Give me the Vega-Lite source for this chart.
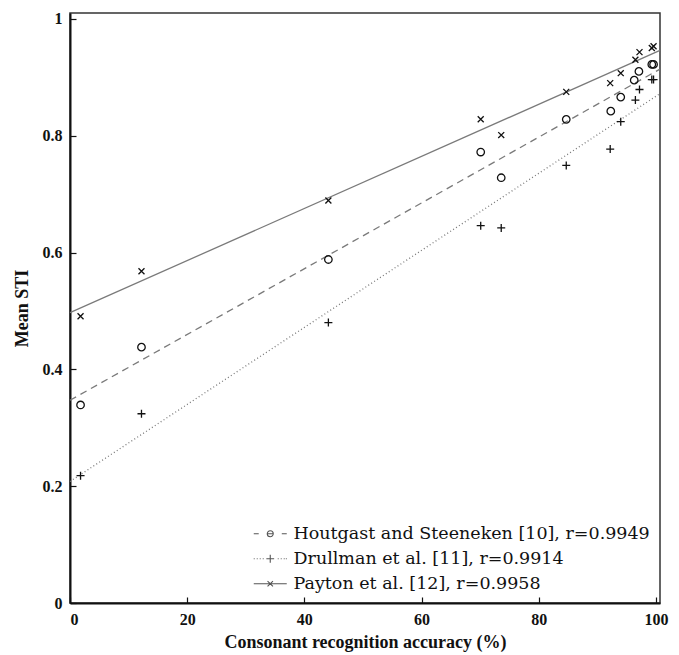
{
  "$schema": "https://vega.github.io/schema/vega-lite/v6.json",
  "autosize": {"type": "none"},
  "padding": {"left": 70, "top": 13, "right": 19, "bottom": 52},
  "width": 590,
  "height": 590,
  "background": "white",
  "config": {
    "view": {"stroke": "#333", "strokeWidth": 1.5},
    "axis": {
      "grid": false,
      "domainColor": "#111",
      "domainWidth": 2,
      "tickColor": "#111",
      "tickWidth": 1.2,
      "tickSize": -6,
      "labelFont": "Liberation Serif",
      "labelFontWeight": "bold",
      "labelFontSize": 16,
      "labelColor": "#111",
      "titleFont": "Liberation Serif",
      "titleFontWeight": "bold",
      "titleFontSize": 18,
      "titleColor": "#111"
    }
  },
  "resolve": {"scale": {"shape": "independent"}, "legend": {"shape": "independent"}},
  "datasets": {
    "pts": [
      {"x": 1.8, "y": 0.339, "s": "Houtgast and Steeneken [10], r=0.9949"},
      {"x": 12.2, "y": 0.438, "s": "Houtgast and Steeneken [10], r=0.9949"},
      {"x": 44.1, "y": 0.588, "s": "Houtgast and Steeneken [10], r=0.9949"},
      {"x": 70.1, "y": 0.772, "s": "Houtgast and Steeneken [10], r=0.9949"},
      {"x": 73.6, "y": 0.728, "s": "Houtgast and Steeneken [10], r=0.9949"},
      {"x": 84.7, "y": 0.828, "s": "Houtgast and Steeneken [10], r=0.9949"},
      {"x": 92.3, "y": 0.842, "s": "Houtgast and Steeneken [10], r=0.9949"},
      {"x": 94.0, "y": 0.866, "s": "Houtgast and Steeneken [10], r=0.9949"},
      {"x": 96.3, "y": 0.895, "s": "Houtgast and Steeneken [10], r=0.9949"},
      {"x": 97.1, "y": 0.910, "s": "Houtgast and Steeneken [10], r=0.9949"},
      {"x": 99.3, "y": 0.922, "s": "Houtgast and Steeneken [10], r=0.9949"},
      {"x": 99.6, "y": 0.922, "s": "Houtgast and Steeneken [10], r=0.9949"},
      {"x": 1.8, "y": 0.218, "s": "Drullman et al. [11], r=0.9914"},
      {"x": 12.2, "y": 0.324, "s": "Drullman et al. [11], r=0.9914"},
      {"x": 44.1, "y": 0.480, "s": "Drullman et al. [11], r=0.9914"},
      {"x": 70.1, "y": 0.646, "s": "Drullman et al. [11], r=0.9914"},
      {"x": 73.6, "y": 0.642, "s": "Drullman et al. [11], r=0.9914"},
      {"x": 84.7, "y": 0.749, "s": "Drullman et al. [11], r=0.9914"},
      {"x": 92.2, "y": 0.777, "s": "Drullman et al. [11], r=0.9914"},
      {"x": 94.0, "y": 0.824, "s": "Drullman et al. [11], r=0.9914"},
      {"x": 96.5, "y": 0.861, "s": "Drullman et al. [11], r=0.9914"},
      {"x": 97.2, "y": 0.879, "s": "Drullman et al. [11], r=0.9914"},
      {"x": 99.3, "y": 0.896, "s": "Drullman et al. [11], r=0.9914"},
      {"x": 99.6, "y": 0.896, "s": "Drullman et al. [11], r=0.9914"},
      {"x": 1.8, "y": 0.491, "s": "Payton et al. [12], r=0.9958"},
      {"x": 12.2, "y": 0.568, "s": "Payton et al. [12], r=0.9958"},
      {"x": 44.1, "y": 0.689, "s": "Payton et al. [12], r=0.9958"},
      {"x": 70.1, "y": 0.828, "s": "Payton et al. [12], r=0.9958"},
      {"x": 73.6, "y": 0.801, "s": "Payton et al. [12], r=0.9958"},
      {"x": 84.7, "y": 0.875, "s": "Payton et al. [12], r=0.9958"},
      {"x": 92.2, "y": 0.890, "s": "Payton et al. [12], r=0.9958"},
      {"x": 94.0, "y": 0.907, "s": "Payton et al. [12], r=0.9958"},
      {"x": 96.5, "y": 0.930, "s": "Payton et al. [12], r=0.9958"},
      {"x": 97.2, "y": 0.943, "s": "Payton et al. [12], r=0.9958"},
      {"x": 99.3, "y": 0.950, "s": "Payton et al. [12], r=0.9958"},
      {"x": 99.6, "y": 0.953, "s": "Payton et al. [12], r=0.9958"}
    ],
    "fits": [
      {"x": 0, "y": 0.347, "s": "H"},
      {"x": 100.7, "y": 0.914, "s": "H"},
      {"x": 0, "y": 0.208, "s": "D"},
      {"x": 100.7, "y": 0.872, "s": "D"},
      {"x": 0, "y": 0.497, "s": "P"},
      {"x": 100.7, "y": 0.946, "s": "P"}
    ]
  },
  "encoding": {
    "x": {
      "field": "x", "type": "quantitative",
      "scale": {"domain": [0, 100.7], "nice": false, "zero": false},
      "axis": {"values": [0, 20, 40, 60, 80, 100], "format": "d", "labelPadding": 14, "titlePadding": 6, "title": "Consonant recognition accuracy (%)"}
    },
    "y": {
      "field": "y", "type": "quantitative",
      "scale": {"domain": [0, 1.01], "nice": false, "zero": false},
      "axis": {"values": [0, 0.2, 0.4, 0.6, 0.8, 1], "format": "~g", "labelPadding": 14, "titlePadding": 11, "title": "Mean STI"}
    }
  },
  "layer": [
    {
      "data": {"name": "fits"},
      "transform": [{"filter": "datum.s === 'H'"}],
      "mark": {"type": "line", "color": "#7a7a7a", "strokeWidth": 1.3, "strokeDash": [7, 5]},
      "encoding": {}
    },
    {
      "data": {"name": "fits"},
      "transform": [{"filter": "datum.s === 'D'"}],
      "mark": {"type": "line", "color": "#7a7a7a", "strokeWidth": 1.3, "strokeDash": [1, 2.5]},
      "encoding": {}
    },
    {
      "data": {"name": "fits"},
      "transform": [{"filter": "datum.s === 'P'"}],
      "mark": {"type": "line", "color": "#7a7a7a", "strokeWidth": 1.3},
      "encoding": {}
    },
    {
      "data": {"name": "pts"},
      "mark": {"type": "point", "filled": false, "color": "#111", "strokeWidth": 1.3, "size": 56, "opacity": 1},
      "encoding": {
        "shape": {
          "field": "s", "type": "nominal",
          "scale": {
            "domain": ["Houtgast and Steeneken [10], r=0.9949", "Drullman et al. [11], r=0.9914", "Payton et al. [12], r=0.9958"],
            "range": ["circle", "M-1.07,0H1.07M0,-1.07V1.07", "M-0.8,-0.8L0.8,0.8M-0.8,0.8L0.8,-0.8"]
          },
          "legend": null
        }
      }
    },
    {
      "data": {"name": "pts"},
      "transform": [{"filter": "datum.x < 0"}],
      "mark": {"type": "point", "filled": false, "color": "#555", "strokeWidth": 1.1, "size": 144, "opacity": 1},
      "encoding": {
        "shape": {
          "field": "s", "type": "nominal",
          "scale": {
            "domain": ["Houtgast and Steeneken [10], r=0.9949", "Drullman et al. [11], r=0.9914", "Payton et al. [12], r=0.9958"],
            "range": [
              "M-1,0H-0.17M1.25,0H2.25M3.67,0H4.5M2.25,0C2.25,0.276,2.026,0.5,1.75,0.5C1.474,0.5,1.25,0.276,1.25,0C1.25,-0.276,1.474,-0.5,1.75,-0.5C2.026,-0.5,2.25,-0.276,2.25,0Z",
              "M-1,0H-0.85M-0.5,0H-0.35M0,0H0.15M0.5,0H0.65M3,0H3.15M3.5,0H3.65M4,0H4.15M4.35,0H4.5M1.1,0H2.4M1.75,-0.65V0.65",
              "M-1,0H4.5M1.3,-0.45L2.2,0.45M1.3,0.45L2.2,-0.45"
            ]
          },
          "legend": {
            "title": null,
            "orient": "bottom-right",
            "offset": 10,
            "padding": 0,
            "symbolSize": 144,
            "symbolStrokeWidth": 1.1,
            "symbolStrokeColor": "#555",
            "symbolFillColor": "transparent",
            "symbolOpacity": 1,
            "labelOffset": 25,
            "labelFont": "DejaVu Serif",
            "labelFontSize": 17.5,
            "labelColor": "#111",
            "labelLimit": 500,
            "rowPadding": 6
          }
        }
      }
    }
  ]
}
